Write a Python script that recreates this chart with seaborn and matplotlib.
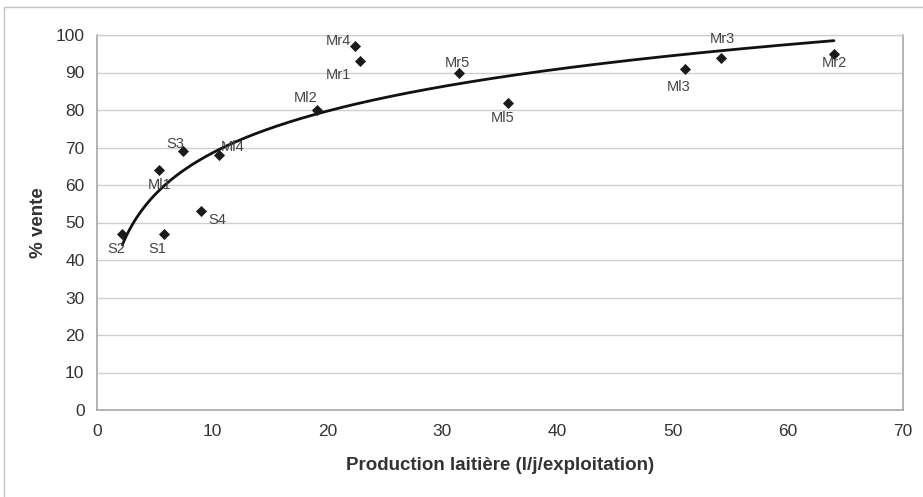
import numpy as np
import pandas as pd
import matplotlib
matplotlib.use("Agg")
import matplotlib.pyplot as plt
from matplotlib.lines import Line2D
import seaborn as sns

# ---- data ----
labels = ["S2", "S1", "S4", "S3", "Ml1", "Ml4", "Ml2", "Mr4", "Mr1", "Mr5", "Ml5", "Ml3", "Mr3", "Mr2"]
production = [2.2, 5.8, 9.0, 7.5, 5.4, 10.6, 19.1, 22.4, 22.8, 31.4, 35.7, 51.1, 54.2, 64.0]
vente = [47, 47, 53, 69, 64, 68, 80, 97, 93, 90, 82, 91, 94, 95]
x_ticks = [0, 10, 20, 30, 40, 50, 60, 70]
y_ticks = [0, 10, 20, 30, 40, 50, 60, 70, 80, 90, 100]
x_title = "Production laitière (l/j/exploitation)"
y_title = "% vente"

# label offsets in points (style only)
label_offsets = [(-4, -11), (-5, -11), (12, -6), (-6, 5), (0, -11), (10, 6), (-8, 9),
                 (-12, 4), (-15, -10), (-1, 7), (-4, -11), (-5, -13), (1, 13), (0, -7)]

df = pd.DataFrame({"label": labels, "x": production, "y": vente})

# logarithmic trend line (least squares on ln x)
a, b = np.polyfit(np.log(df["x"]), df["y"], 1)
xs = np.linspace(df["x"].min(), df["x"].max(), 300)
trend = pd.DataFrame({"x": xs, "y": a * np.log(xs) + b})

sns.set_style("white")
plt.rcParams["font.family"] = ["Liberation Sans", "DejaVu Sans"]

fig = plt.figure(figsize=(9.23, 4.97), dpi=100)
ax = fig.add_axes([97 / 923, 1 - 410 / 497, (903 - 97) / 923, (410 - 35) / 497])

grid_c = "#cfcfcf"
axis_c = "#a6a6a6"
text_c = "#333333"

sns.lineplot(data=trend, x="x", y="y", ax=ax, color="#111111", linewidth=2.0, zorder=3)
sns.scatterplot(data=df, x="x", y="y", ax=ax, marker="D", s=32, color="#1a1a1a",
                edgecolor="#1a1a1a", linewidth=0, zorder=4)

for (lab, xv, yv), (dx, dy) in zip(zip(labels, production, vente), label_offsets):
    ax.annotate(lab, (xv, yv), xytext=(dx, dy), textcoords="offset points",
                ha="center", va="center", fontsize=10.5, color="#444444", zorder=5)

ax.set_xlim(0, 70)
ax.set_ylim(0, 100)
ax.set_xticks(x_ticks)
ax.set_yticks(y_ticks)
ax.yaxis.grid(True, color=grid_c, linewidth=1.0)
ax.set_axisbelow(True)

for side in ["left", "bottom", "right"]:
    ax.spines[side].set_visible(True)
    ax.spines[side].set_color(axis_c)
    ax.spines[side].set_linewidth(1.2)
ax.spines["top"].set_visible(True)
ax.spines["top"].set_color(grid_c)
ax.spines["top"].set_linewidth(1.0)

ax.tick_params(axis="both", which="major", direction="out", length=5, width=1.0,
               color=axis_c, labelsize=12.5, labelcolor=text_c)
ax.tick_params(axis="x", pad=5)
ax.tick_params(axis="y", pad=4)

ax.set_xlabel(x_title, fontsize=13.5, fontweight="bold", color=text_c, labelpad=13)
ax.set_ylabel(y_title, fontsize=13.5, fontweight="bold", color=text_c, labelpad=6)

# figure frame lines (left and top)
fig.add_artist(Line2D([4 / 923, 4 / 923], [0, 1 - 7 / 497], transform=fig.transFigure,
                      color="#c4c4c4", linewidth=1.0))
fig.add_artist(Line2D([4 / 923, 1], [1 - 7 / 497, 1 - 7 / 497], transform=fig.transFigure,
                      color="#c4c4c4", linewidth=1.0))

fig.savefig("out.png", dpi=100)
